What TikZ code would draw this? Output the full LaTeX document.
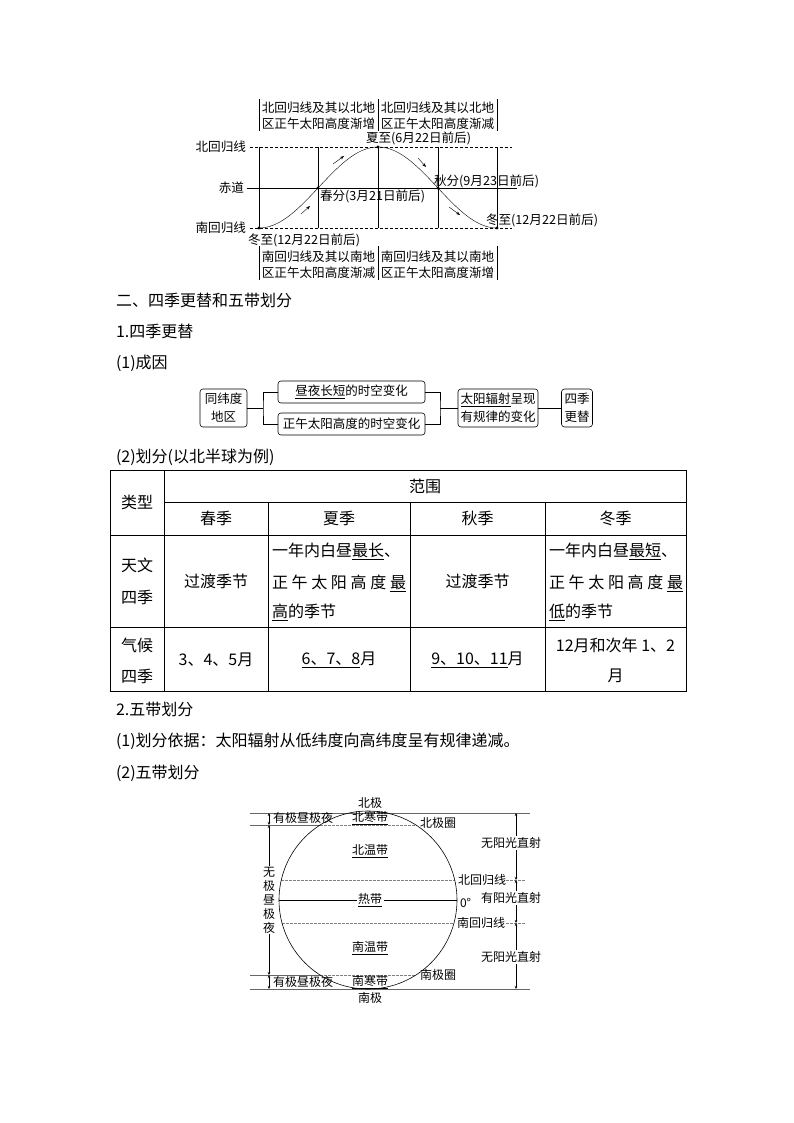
\documentclass[tikz,border=0pt]{standalone}
\usepackage{fontspec}
\setmainfont{Noto Sans CJK SC}
\usetikzlibrary{arrows.meta}
\begin{document}
\begin{tikzpicture}[x=1pt,y=-1pt,
  every node/.style={inner sep=0pt,outer sep=0pt},
  sm/.style={font=\fontsize{12}{15}\selectfont},
  tp/.style={font=\fontsize{12.6}{15}\selectfont},
  body/.style={font=\fontsize{16}{19}\selectfont},
  tbl/.style={font=\fontsize{16}{19}\selectfont},
  fbox/.style={draw,rounded corners=3pt,line width=0.6pt,align=center,font=\fontsize{12.5}{18}\selectfont},
  dsh/.style={dash pattern=on 3pt off 2pt},
  gdsh/.style={gray,dash pattern=on 2.5pt off 1.5pt},
  tip/.style={-{Stealth[length=4pt,width=3pt]}},
  dtip/.style={{Stealth[length=3pt,width=2.5pt]}-{Stealth[length=3pt,width=2.5pt]}},
  wlbl/.style={sm,fill=white,inner sep=1.5pt}]
\fill[white] (0,0) rectangle (794,1123);
\useasboundingbox (0,0) rectangle (794,1123);

% ---------- top diagram ----------
\draw[dsh] (250,147) -- (512,147);
\draw (247,188) -- (517,188);
\draw[dsh] (250,228) -- (512,228);
\foreach \x in {259,318,378,438,497} \draw (\x,147) -- (\x,228);
\foreach \x in {259,378,497} {\draw (\x,99) -- (\x,131); \draw (\x,246) -- (\x,280);}
\node[tp] (ta1) at (318.5,108) {北回归线及其以北地};
\node[tp] (ta2) at (318.5,124) {区正午太阳高度渐增};
\node[tp] (tb1) at (437.5,108) {北回归线及其以北地};
\node[tp] (tb2) at (437.5,124) {区正午太阳高度渐减};
\node[tp] (bc1) at (318.5,257) {南回归线及其以南地};
\node[tp] (bc2) at (318.5,273) {区正午太阳高度渐减};
\node[tp] (bd1) at (437.5,257) {南回归线及其以南地};
\node[tp] (bd2) at (437.5,273) {区正午太阳高度渐增};
\node[tp,anchor=east] (lN) at (246,147) {北回归线};
\node[tp,anchor=east] (lE) at (244,188) {赤道};
\node[tp,anchor=east] (lS) at (246,228) {南回归线};
\node[tp,anchor=west] (d1) at (248,240) {冬至(12月22日前后)};
\node[tp,anchor=west] (d2) at (320,196) {春分(3月21日前后)};
\node[tp,anchor=west] (d3) at (366,138) {夏至(6月22日前后)};
\node[tp,anchor=west] (d4) at (434,181) {秋分(9月23日前后)};
\node[tp,anchor=west] (d5) at (486,220) {冬至(12月22日前后)};
\draw plot[domain=259:497,samples=90,smooth] (\x,{187.5-40.5*cos(1.512605*(\x-378))});
\foreach \p in {(259,228),(318,188),(378,147),(438,188),(497,228)} \fill \p circle (1.6pt);
\draw[tip] (301,214) -- (310,206);
\draw[tip] (333,164) -- (344,156);
\draw[tip] (418,158) -- (426,167);
\draw[tip] (449,207) -- (460,215);

% ---------- headings ----------
\node[body,anchor=west] (h1) at (116,300) {二、四季更替和五带划分};
\node[body,anchor=west] (h2) at (116,331) {1.四季更替};
\node[body,anchor=west] (h3) at (116,363) {(1)成因};

% ---------- flow chart ----------
\node[fbox,minimum width=47pt,minimum height=38pt] (n1) at (223.5,408) {同纬度\\地区};
\node[fbox,minimum width=147pt,minimum height=22pt] (n2) at (351.5,392) {\underline{昼夜长短}的时空变化};
\node[fbox,minimum width=147pt,minimum height=22pt] (n3) at (351.5,424) {正午太阳高度的时空变化};
\node[fbox,minimum width=80pt,minimum height=38pt] (n4) at (498,408) {\underline{太阳辐射}呈现\\有规律的变化};
\node[fbox,minimum width=31pt,minimum height=38pt] (n5) at (577,408) {四季\\更替};
\coordinate (bl) at (263,408);
\coordinate (br) at (440,408);
\draw[line width=0.6pt] (n1.east) -- (bl);
\draw[line width=0.6pt] (n2.west) -| (bl) |- (n3.west);
\draw[line width=0.6pt] (n2.east) -| (br) |- (n3.east);
\draw[line width=0.6pt] (br) -- (n4.west);
\draw[line width=0.6pt] (n4.east) -- (n5.west);

% ---------- table ----------
\node[body,anchor=west] (h4) at (116,457) {(2)划分(以北半球为例)};
\begin{scope}[line width=0.8pt]
\draw (110,470) rectangle (686,691);
\draw (164,502) -- (686,502);
\draw (110,535) -- (686,535);
\draw (110,627) -- (686,627);
\draw (164,470) -- (164,691);
\foreach \x in {268,410,545} \draw (\x,502) -- (\x,691);
\end{scope}
\node[tbl] (c00) at (137,502) {类型};
\node[tbl] (c01) at (425,486) {范围};
\node[tbl] (c11) at (216,518.5) {春季};
\node[tbl] (c12) at (339,518.5) {夏季};
\node[tbl] (c13) at (477.5,518.5) {秋季};
\node[tbl] (c14) at (615.5,518.5) {冬季};
\node[tbl] (c20a) at (137,565) {天文};
\node[tbl] (c20b) at (137,597) {四季};
\node[tbl] (c21) at (216,581) {过渡季节};
\node[tbl,anchor=west] (c22a) at (272,551) {一年内白昼\underline{最长}、};
\node[tbl,anchor=west] (c22b) at (272,583) {\makebox[134pt]{正\hfill 午\hfill 太\hfill 阳\hfill 高\hfill 度\hfill \underline{最}}};
\node[tbl,anchor=west] (c22c) at (272,612) {\underline{高}的季节};
\node[tbl] (c23) at (477.5,581) {过渡季节};
\node[tbl,anchor=west] (c24a) at (549,551) {一年内白昼\underline{最短}、};
\node[tbl,anchor=west] (c24b) at (549,583) {\makebox[134pt]{正\hfill 午\hfill 太\hfill 阳\hfill 高\hfill 度\hfill \underline{最}}};
\node[tbl,anchor=west] (c24c) at (549,612) {\underline{低}的季节};
\node[tbl] (c30a) at (137,645) {气候};
\node[tbl] (c30b) at (137,676) {四季};
\node[tbl] (c31) at (216,660) {3、4、5月};
\node[tbl] (c32) at (339,660) {\underline{6、7、8}月};
\node[tbl] (c33) at (477.5,660) {\underline{9、10、11}月};
\node[tbl] (c34a) at (615.5,645) {12月和次年 1、2};
\node[tbl] (c34b) at (615.5,676) {月};

% ---------- headings 2 ----------
\node[body,anchor=west] (h5) at (116,709) {2.五带划分};
\node[body,anchor=west] (h6) at (116,741) {(1)划分依据：太阳辐射从低纬度向高纬度呈有规律递减。};
\node[body,anchor=west] (h7) at (116,773) {(2)五带划分};

% ---------- globe ----------
\draw[gray!80!black,line width=0.7pt] (250,813) -- (530,813);
\draw[gray!80!black,line width=0.7pt] (250,989) -- (530,989);
\draw[gray!80!black] (250,825) -- (320,825);
\draw[gray!80!black] (250,975) -- (320,975);
\draw[gdsh] (320,825) -- (416,825);
\draw[gdsh] (320,975) -- (416,975);
\draw[gdsh] (281,880) -- (455,880);
\draw[gdsh] (282,923) -- (454,923);
\draw[gdsh] (506,880) -- (526,880);
\draw[gdsh] (506,923) -- (526,923);
\draw (279,900) -- (457,900);
\draw[line width=0.6pt] (368,900) circle (89pt);
\node[sm] (gN) at (370,803) {北极};
\node[sm] (gS) at (370,998) {南极};
\node[sm] (z1) at (370,818) {\underline{北寒带}};
\node[sm] (z2) at (370,851) {\underline{北温带}};
\node[wlbl] (z3) at (370,900) {\underline{热带}};
\node[sm] (z4) at (370,948) {\underline{南温带}};
\node[sm] (z5) at (370,982) {\underline{南寒带}};
\node[sm,anchor=west] (pc1) at (420,823) {北极圈};
\node[sm,anchor=west] (pc2) at (420,975) {南极圈};
\node[sm,anchor=west] (tr1) at (458,880) {北回归线};
\node[sm,anchor=west] (tr2) at (457,923) {南回归线};
\node[sm,anchor=west] (eq) at (460,903) {0°};
% left
\draw[dtip] (269,813) -- (269,825);
\draw[dtip] (269,975) -- (269,989);
\draw[dtip] (269,825) -- (269,975);
\node[sm,anchor=west] (pn) at (273,818) {有极昼极夜};
\node[sm,anchor=west] (ps) at (273,982) {有极昼极夜};
\node[sm,fill=white,align=center,inner sep=1pt,font=\fontsize{12}{14}\selectfont] (np) at (269,900) {无\\极\\昼\\极\\夜};
% right
\draw[dtip] (516,813) -- (516,880);
\draw[dtip] (516,880) -- (516,923);
\draw[dtip] (516,923) -- (516,989);
\node[wlbl] (r1) at (511,843) {无阳光直射};
\node[wlbl] (r2) at (511,898) {有阳光直射};
\node[wlbl] (r3) at (511,957) {无阳光直射};
\end{tikzpicture}
\end{document}
